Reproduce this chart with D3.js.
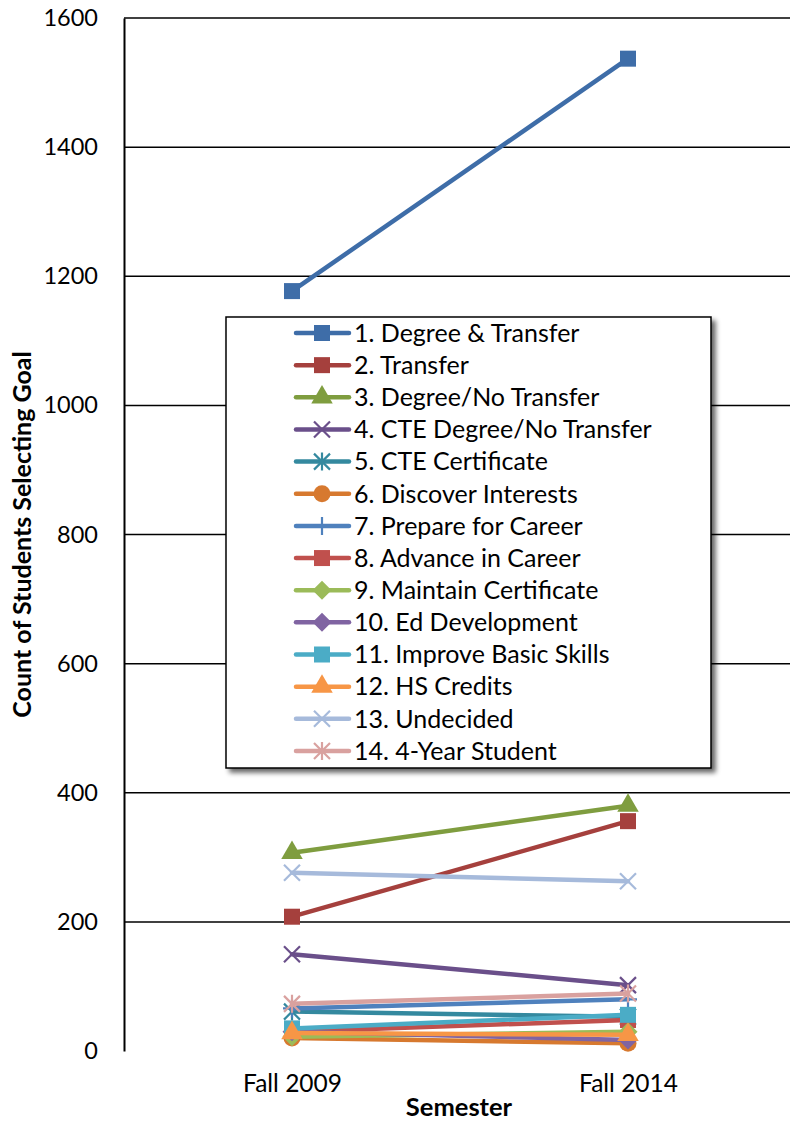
<!DOCTYPE html>
<html><head><meta charset="utf-8">
<script src="https://cdn.jsdelivr.net/npm/d3@7"></script>
<style>body{margin:0;background:#fff;} svg{display:block;}</style>
</head><body>
<svg id="c" width="790" height="1121"></svg>
<script>
const categories = ["Fall 2009", "Fall 2014"];
const seriesNames = ["1. Degree & Transfer","2. Transfer","3. Degree/No Transfer","4. CTE Degree/No Transfer","5. CTE Certificate","6. Discover Interests","7. Prepare for Career","8. Advance in Career","9. Maintain Certificate","10. Ed Development","11. Improve Basic Skills","12. HS Credits","13. Undecided","14. 4-Year Student"];
const fall2009 = [1177, 208, 307, 150, 61, 20, 66, 30, 22, 30, 35, 28, 276, 73];
const fall2014 = [1537, 356, 380, 102, 53, 12, 80, 48, 30, 17, 56, 25, 263, 89];
const yTicks = [0, 200, 400, 600, 800, 1000, 1200, 1400, 1600];
const colors = ["#3E6DA8","#A5403D","#7F9D3F","#6A4F8A","#34899F","#D7792F","#4F81BD","#C0504D","#9BBB59","#8064A2","#4BACC6","#F79646","#A6BADB","#D9A19F"];
const markers = ["square","square","triangle","x","asterisk","circle","plus","square","diamond","diamond","square","triangle","x","asterisk"];

const svg = d3.select("#c");
const FONT = "Lato, 'Open Sans', sans-serif";
const pLeft = 124, pRight = 796, pTop = 18, pBottom = 1051;
const x = d3.scalePoint().domain(categories).range([pLeft, pRight]).padding(0.5);
const y = d3.scaleLinear().domain([0, 1600]).range([pBottom, pTop]);

const defs = svg.append("defs");
const f = defs.append("filter").attr("id","sh").attr("x","-10%").attr("y","-10%").attr("width","130%").attr("height","130%");
f.append("feGaussianBlur").attr("in","SourceAlpha").attr("stdDeviation",2.5);
f.append("feOffset").attr("dx",4).attr("dy",4).attr("result","ob");
f.append("feComponentTransfer").append("feFuncA").attr("type","linear").attr("slope",0.6);
const fm = f.append("feMerge"); fm.append("feMergeNode"); fm.append("feMergeNode").attr("in","SourceGraphic");

const fb = defs.append("filter").attr("id","shb").attr("x","-5%").attr("y","-50%").attr("width","110%").attr("height","400%");
fb.append("feGaussianBlur").attr("in","SourceAlpha").attr("stdDeviation",2);
fb.append("feOffset").attr("dx",0).attr("dy",3).attr("result","ob");
fb.append("feComponentTransfer").append("feFuncA").attr("type","linear").attr("slope",0.5);
const fbm = fb.append("feMerge"); fbm.append("feMergeNode"); fbm.append("feMergeNode").attr("in","SourceGraphic");

// gridlines
svg.append("g").selectAll("line").data(yTicks.filter(d=>d>0)).join("line")
  .attr("x1", pLeft).attr("x2", pRight).attr("y1", d=>y(d)).attr("y2", d=>y(d))
  .attr("stroke","#000").attr("stroke-width",1.5);

// y axis
const yAxis = svg.append("g").attr("transform",`translate(${pLeft},0)`)
  .call(d3.axisLeft(y).tickValues(yTicks).tickSize(0).tickPadding(26).tickFormat(d3.format("d")));
yAxis.select(".domain").attr("stroke","#000").attr("stroke-width",2);
yAxis.selectAll("text").attr("font-family",FONT).attr("font-size",23.5).attr("fill","#000");

// x axis
const xAxis = svg.append("g").attr("transform",`translate(0,${pBottom})`)
  .call(d3.axisBottom(x).tickSize(0).tickPadding(24));
xAxis.select(".domain").attr("stroke","#000").attr("stroke-width",2.5).attr("filter","url(#shb)");
xAxis.selectAll("text").attr("font-family",FONT).attr("font-size",24.5).attr("fill","#000");

// axis titles
svg.append("text").attr("x", 459).attr("y", 1116).attr("text-anchor","middle")
  .attr("font-family",FONT).attr("font-weight","bold").attr("font-size",25.5).text("Semester");
svg.append("text").attr("transform",`translate(31,${(pTop+pBottom)/2}) rotate(-90)`).attr("text-anchor","middle")
  .attr("font-family",FONT).attr("font-weight","bold").attr("font-size",25).text("Count of Students Selecting Goal");

function drawMarker(g, type, color, cx, cy) {
  const s = 16;
  if (type === "square") {
    g.append("rect").attr("x",cx-s/2).attr("y",cy-s/2).attr("width",s).attr("height",s).attr("fill",color);
  } else if (type === "triangle") {
    g.append("path").attr("d",d3.symbol(d3.symbolTriangle, 200)()).attr("transform",`translate(${cx},${cy})`).attr("fill",color);
  } else if (type === "circle") {
    g.append("circle").attr("cx",cx).attr("cy",cy).attr("r",8.5).attr("fill",color);
  } else if (type === "diamond") {
    const r = 9.5;
    g.append("path").attr("d",`M${cx},${cy-r}L${cx+r},${cy}L${cx},${cy+r}L${cx-r},${cy}Z`).attr("fill",color);
  } else if (type === "x") {
    const r = 8;
    g.append("path").attr("d",`M${cx-r},${cy-r}L${cx+r},${cy+r}M${cx-r},${cy+r}L${cx+r},${cy-r}`).attr("stroke",color).attr("stroke-width",2.2).attr("fill","none");
  } else if (type === "asterisk") {
    const r = 8;
    g.append("path").attr("d",`M${cx-r},${cy-r}L${cx+r},${cy+r}M${cx-r},${cy+r}L${cx+r},${cy-r}M${cx},${cy-r-1}L${cx},${cy+r+1}`).attr("stroke",color).attr("stroke-width",2.2).attr("fill","none");
  } else if (type === "plus") {
    const r = 9;
    g.append("path").attr("d",`M${cx},${cy-r}L${cx},${cy+r}M${cx-r},${cy}L${cx+r},${cy}`).attr("stroke",color).attr("stroke-width",2.2).attr("fill","none");
  }
}

// series
const line = d3.line().x(d=>x(d.c)).y(d=>y(d.v));
seriesNames.forEach((name, i) => {
  const pts = [{c:categories[0], v:fall2009[i]}, {c:categories[1], v:fall2014[i]}];
  const g = svg.append("g");
  g.append("path").attr("d", line(pts)).attr("stroke", colors[i]).attr("stroke-width", 4.5).attr("fill","none").attr("stroke-linecap","round");
  pts.forEach(p => drawMarker(g, markers[i], colors[i], x(p.c), y(p.v)));
});

// legend
const lg = svg.append("g");
lg.append("rect").attr("x",226).attr("y",317).attr("width",485).attr("height",451)
  .attr("fill","#fff").attr("stroke","#000").attr("stroke-width",1.5).attr("filter","url(#sh)");
seriesNames.forEach((name, i) => {
  const cy = 333 + i * 32.15;
  const row = lg.append("g");
  row.append("line").attr("x1",296).attr("x2",349).attr("y1",cy).attr("y2",cy)
    .attr("stroke",colors[i]).attr("stroke-width",4.5).attr("stroke-linecap","round");
  drawMarker(row, markers[i], colors[i], 322, cy);
  row.append("text").attr("x",354).attr("y",cy).attr("dy","0.35em")
    .attr("font-family",FONT).attr("font-size",25).attr("fill","#000").text(name);
});
</script>
</body></html>
